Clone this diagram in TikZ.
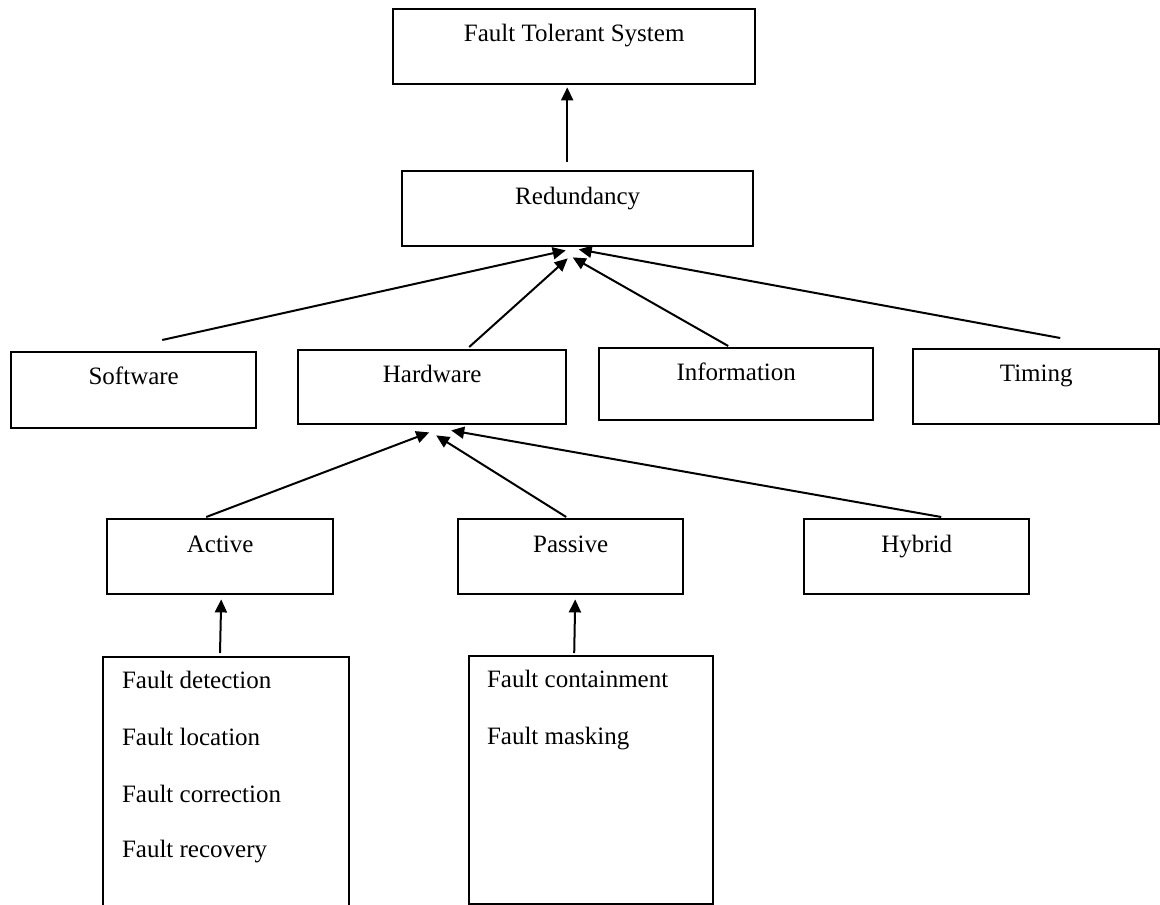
\documentclass[tikz,border=0pt]{standalone}
\usepackage{fontspec}
\setmainfont{Liberation Serif}
\usetikzlibrary{arrows.meta}

\begin{document}
\begin{tikzpicture}[x=0.5pt, y=-0.5pt, line width=1pt,
    box/.style={draw, line width=1.2pt, anchor=north west, inner sep=0pt, font=\fontsize{12.5}{15}\selectfont},
    item/.style={anchor=base west, inner sep=0pt, font=\fontsize{12.5}{15}\selectfont},
    arr/.style={-{Triangle[length=6.5pt,width=6pt]}}]
    \useasboundingbox (0,0) rectangle (1160,904);

    % Top levels
    \node[box, minimum width=181pt, text height=16pt, text depth=21.5pt] (fts) at (392,8) {Fault Tolerant System};
    \node[box, minimum width=175.5pt, text height=16.5pt, text depth=21pt] (red) at (401,170) {Redundancy};
    \draw[arr] ([xshift=-5.25pt,yshift=4pt]red.north) -- ([xshift=-3.5pt,yshift=-1pt]fts.south);

    % Kinds of redundancy
    \node[box, minimum width=122.5pt, text height=16pt, text depth=22pt] (soft) at (10,351) {Software};
    \node[box, minimum width=134pt, text height=16pt, text depth=21pt] (hard) at (297,349) {Hardware};
    \node[box, minimum width=137pt, text height=16pt, text depth=20pt] (info) at (598,347) {Information};
    \node[box, minimum width=123pt, text height=16pt, text depth=21.5pt] (timing) at (912,348) {Timing};
    \draw[arr] ([xshift=14.25pt,yshift=5.5pt]soft.north) -- ([xshift=-6pt,yshift=-1.5pt]red.south);
    \draw[arr] ([xshift=18.5pt,yshift=1pt]hard.north) -- ([xshift=-5pt,yshift=-5.5pt]red.south);
    \draw[arr] ([xshift=-4pt,yshift=0.5pt]info.north) -- ([xshift=-2.5pt,yshift=-5pt]red.south);
    \draw[arr] ([xshift=12pt,yshift=5pt]timing.north) -- ([xshift=0.5pt,yshift=-1pt]red.south);

    % Hardware redundancy
    \node[box, minimum width=113pt, text height=16.5pt, text depth=21pt] (active) at (106,518) {Active};
    \node[box, minimum width=112.5pt, text height=16.5pt, text depth=21pt] (passive) at (457,518) {Passive};
    \node[box, minimum width=112.5pt, text height=16.5pt, text depth=21pt] (hybrid) at (803,518) {Hybrid};
    \draw[arr] ([xshift=-7pt,yshift=0.5pt]active.north) -- ([xshift=-1.5pt,yshift=-3.5pt]hard.south);
    \draw[arr] ([xshift=-2.25pt,yshift=0.5pt]passive.north) -- ([xshift=2pt,yshift=-5pt]hard.south);
    \draw[arr] ([xshift=12.25pt,yshift=0.5pt]hybrid.north) -- ([xshift=9.5pt,yshift=-2.5pt]hard.south);

    % Active techniques (box runs off the page)
    \node[anchor=north west, inner sep=0pt, minimum width=122pt, minimum height=123.5pt] (alist) at (103,657) {};
    \draw[line width=1.2pt] (alist.south west) -- (alist.north west) -- (alist.north east) -- (alist.south east);
    \node[item] (detect) at (121,688) {Fault detection};
    \node[item] (locate) at (121,745) {Fault location};
    \node[item] (correct) at (121,802) {Fault correction};
    \node[item] (recover) at (121,857) {Fault recovery};
    \draw[arr] ([xshift=-3pt,yshift=2pt]alist.north) -- ([xshift=0.5pt,yshift=-2pt]active.south);

    % Passive techniques
    \node[box, minimum width=122pt, minimum height=124pt] (plist) at (468,655) {};
    \node[item] (contain) at (486,687) {Fault containment};
    \node[item] (mask) at (486,744) {Fault masking};
    \draw[arr] ([xshift=-8.5pt,yshift=1pt]plist.north) -- ([xshift=2.25pt,yshift=-2pt]passive.south);
\end{tikzpicture}
\end{document}
